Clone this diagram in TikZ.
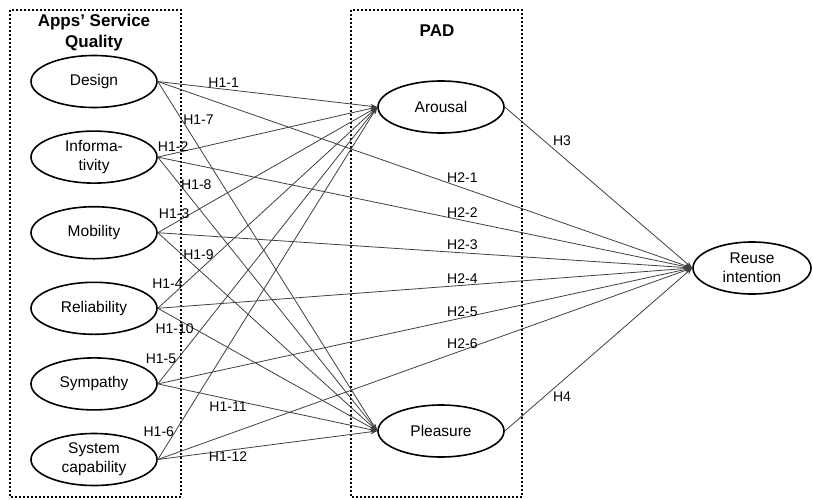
\documentclass[tikz,border=0pt]{standalone}
\usepackage{fontspec}
\setmainfont{Liberation Sans}
\usetikzlibrary{arrows.meta,positioning,shapes.geometric}

\begin{document}
\begin{tikzpicture}[
    x=1pt,y=-1pt,
    node distance=22pt,
    lat/.style={draw,ellipse,line width=1.6pt,inner sep=0pt,minimum width=126pt,minimum height=52pt,align=center,font=\fontsize{15.5}{19}\selectfont},
    grp/.style={line width=2pt,dash pattern=on 2pt off 2pt},
    ttl/.style={align=center,font=\fontsize{17}{21}\selectfont\bfseries},
    arr/.style={-{Stealth[length=7pt,width=5pt]},line width=0.8pt,draw=black!75},
    lbl/.style={inner sep=1pt,font=\fontsize{14}{14}\selectfont}
]
\useasboundingbox (0,0) rectangle (813,499);

% groups
\draw[grp] (10,10) rectangle (181,497);
\draw[grp] (351,10) rectangle (522,497);
\node[ttl] (sq) at (94,33) {Apps’ Service\\Quality};
\node[ttl] (pad) at (437,31) {PAD};

% service quality
\node[lat] (design) at (94,81.5) {Design};
\node[lat,below=of design] (info) {Informa-\\tivity};
\node[lat,below=of info] (mobility) {Mobility};
\node[lat,below=of mobility] (reliab) {Reliability};
\node[lat,below=of reliab] (sympathy) {Sympathy};
\node[lat,below=of sympathy] (syscap) {System\\capability};

% PAD and outcome
\node[lat] (arousal) at (441,107) {Arousal};
\node[lat] (pleasure) at (441,431) {Pleasure};
\node[lat,minimum width=118pt] (reuse) at (752,268) {Reuse\\intention};

\draw[arr] (design.east) -- node[lbl,pos=.3,above]{H1-1} (arousal.west);
\draw[arr] (info.east) -- node[lbl,pos=.07,above=1pt]{H1-2} (arousal.west);
\draw[arr] (mobility.east) -- node[lbl,pos=.15,left]{H1-3} (arousal.west);
\draw[arr] (reliab.east) -- node[lbl,pos=.12,left]{H1-4} (arousal.west);
\draw[arr] (sympathy.east) -- node[lbl,pos=.09,left]{H1-5} (arousal.west);
\draw[arr] (syscap.east) -- node[lbl,pos=.08,left]{H1-6} (arousal.west);

\draw[arr] (design.east) -- node[lbl,pos=.11,right]{H1-7} (pleasure.west);
\draw[arr] (info.east) -- node[lbl,pos=.1,right]{H1-8} (pleasure.west);
\draw[arr] (mobility.east) -- node[lbl,pos=.11,right]{H1-9} (pleasure.west);
\draw[arr] (reliab.east) -- node[lbl,pos=.17,left]{H1-10} (pleasure.west);
\draw[arr] (sympathy.east) -- node[lbl,pos=.32,below=1pt]{H1-11} (pleasure.west);
\draw[arr] (syscap.east) -- node[lbl,pos=.32,below]{H1-12} (pleasure.west);

\draw[arr] (design.east) -- node[lbl,pos=.57,above=4pt]{H2-1} (reuse.west);
\draw[arr] (info.east) -- node[lbl,pos=.57,above=1pt]{H2-2} (reuse.west);
\draw[arr] (mobility.east) -- node[lbl,pos=.57,above=2pt]{H2-3} (reuse.west);
\draw[arr] (reliab.east) -- node[lbl,pos=.57,above]{H2-4} (reuse.west);
\draw[arr] (sympathy.east) -- node[lbl,pos=.57,above]{H2-5} (reuse.west);
\draw[arr] (syscap.east) -- node[lbl,pos=.57,above]{H2-6} (reuse.west);

\draw[arr] (arousal.east) -- node[lbl,pos=.25,above right]{H3} (reuse.west);
\draw[arr] (pleasure.east) -- node[lbl,pos=.25,below right]{H4} (reuse.west);
\end{tikzpicture}
\end{document}
